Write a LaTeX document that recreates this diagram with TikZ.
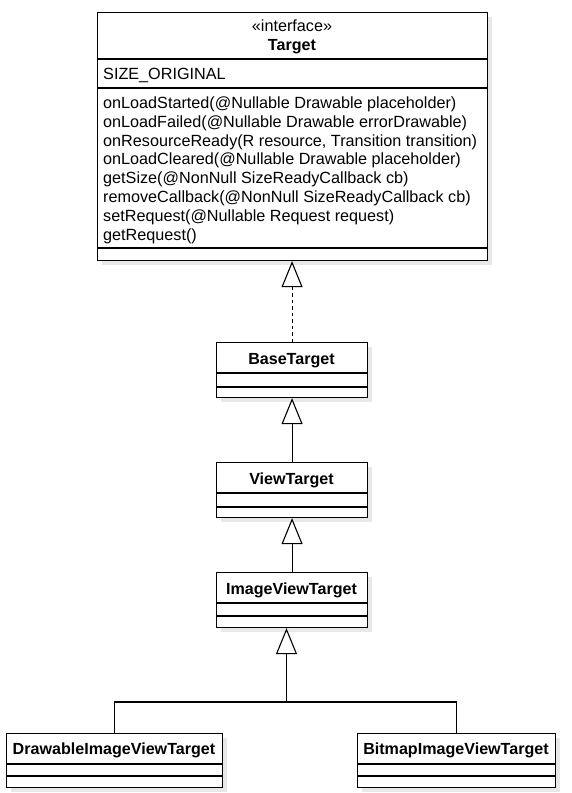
\documentclass[tikz,border=0pt]{standalone}
\usepackage{fontspec}
\setmainfont{Liberation Sans}
\usetikzlibrary{arrows.meta,shadows}
\begin{document}
\begin{tikzpicture}[x=1pt,y=-1pt,
  umlbox/.style={draw=black, line width=1.1pt, fill=white, rectangle, inner sep=0pt,
    anchor=north west, drop shadow={shadow xshift=4pt, shadow yshift=-4pt, fill=black!9, opacity=1}},
  sepline/.style={line width=1.1pt},
  lbl/.style={inner sep=0pt, font=\fontsize{16.2}{18.7}\selectfont},
  blbl/.style={inner sep=0pt, font=\fontsize{16.1}{18.7}\selectfont\bfseries, anchor=base},
  inherit/.style={line width=1.1pt, -{Triangle[open, width=21pt, length=26pt, line width=1.1pt]}},
  realize/.style={inherit, dash pattern=on 3.5pt off 3pt}
]
\useasboundingbox (0,0) rectangle (572,793);
\fill[white] (0,0) rectangle (572,793);

% Target
\node[umlbox, minimum width=390pt, minimum height=248pt] (target) at (97,12) {};
\draw[sepline] (97,59) -- (487,59);
\draw[sepline] (97,88) -- (487,88);
\draw[sepline] (97,248) -- (487,248);
\node[lbl, anchor=base] (stereo) at (292,31) {«interface»};
\node[blbl] (tname) at (292,50) {Target};
\node[lbl, anchor=base west] (attr) at (103,79) {SIZE\_ORIGINAL};
\foreach \t [count=\i] in {
  {onLoadStarted(@Nullable Drawable placeholder)},
  {onLoadFailed(@Nullable Drawable errorDrawable)},
  {onResourceReady(R resource, Transition transition)},
  {onLoadCleared(@Nullable Drawable placeholder)},
  {getSize(@NonNull SizeReadyCallback cb)},
  {removeCallback(@NonNull SizeReadyCallback cb)},
  {setRequest(@Nullable Request request)},
  {getRequest()}}
  \node[lbl, anchor=base west] (m\i) at (103,{108.4+(\i-1)*18.8}) {\t};

% BaseTarget
\node[umlbox, minimum width=151pt, minimum height=55pt] (base) at (216,342) {};
\draw[sepline] (216,373) -- (367,373);
\draw[sepline] (216,387) -- (367,387);
\node[blbl] (basename) at (291.5,364.3) {BaseTarget};

% ViewTarget
\node[umlbox, minimum width=151pt, minimum height=55pt] (view) at (216,462) {};
\draw[sepline] (216,493) -- (367,493);
\draw[sepline] (216,507) -- (367,507);
\node[blbl] (viewname) at (291.5,484.3) {ViewTarget};

% ImageViewTarget
\node[umlbox, minimum width=151pt, minimum height=55pt] (image) at (216,572) {};
\draw[sepline] (216,603) -- (367,603);
\draw[sepline] (216,616) -- (367,616);
\node[blbl] (imagename) at (291.5,594.3) {ImageViewTarget};

% DrawableImageViewTarget
\node[umlbox, minimum width=216pt, minimum height=54pt] (drawable) at (6,733) {};
\draw[sepline] (6,764) -- (222,764);
\draw[sepline] (6,776) -- (222,776);
\node[blbl] (drawablename) at (114,754) {DrawableImageViewTarget};

% BitmapImageViewTarget
\node[umlbox, minimum width=198pt, minimum height=54pt] (bitmap) at (357,733) {};
\draw[sepline] (357,764) -- (555,764);
\draw[sepline] (357,776) -- (555,776);
\node[blbl] (bitmapname) at (456,754) {BitmapImageViewTarget};

% connectors
\draw[realize] (base.north) -- (base.north |- target.south);
\draw[inherit] (view.north) -- (base.south);
\draw[inherit] (image.north) -- (view.south);
\coordinate (junction) at (286.5,702);
\draw[line width=1.1pt] (drawable.north) |- (junction) -| (bitmap.north);
\draw[inherit] (junction) -- (junction |- image.south);
\end{tikzpicture}
\end{document}
